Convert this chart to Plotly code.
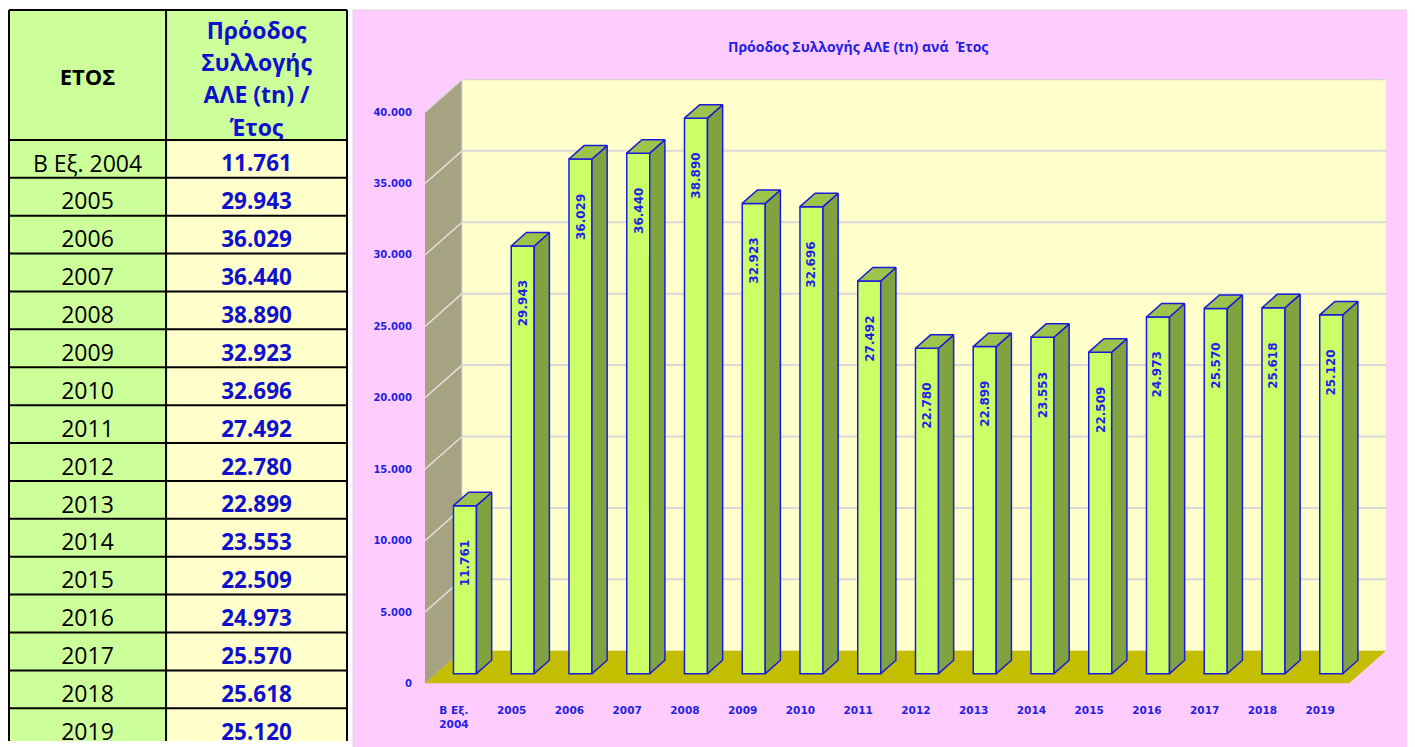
import plotly.graph_objects as go

# ---------------- data ----------------
years = ["B Εξ. 2004", "2005", "2006", "2007", "2008", "2009", "2010", "2011",
         "2012", "2013", "2014", "2015", "2016", "2017", "2018", "2019"]
x_tick_labels = ["B Εξ.<br>2004", "2005", "2006", "2007", "2008", "2009", "2010", "2011",
                 "2012", "2013", "2014", "2015", "2016", "2017", "2018", "2019"]
values = [11761, 29943, 36029, 36440, 38890, 32923, 32696, 27492,
          22780, 22899, 23553, 22509, 24973, 25570, 25618, 25120]
y_ticks = [0, 5000, 10000, 15000, 20000, 25000, 30000, 35000, 40000]
header_col1 = "ΕΤΟΣ"
header_col2 = ["Πρόοδος", "Συλλογής", "ΑΛΕ (tn) /", "Έτος"]
chart_title = "Πρόοδος Συλλογής ΑΛΕ (tn) ανά  Έτος"


def fmt(v):
    return f"{v:,}".replace(",", ".")


# ---------------- page geometry ----------------
OFF = 8                       # default body margin of the html page
PAGE_W, PAGE_H = 1415, 747
FW, FH = PAGE_W - OFF, PAGE_H - OFF


def px(p):                    # page x -> paper fraction
    return (p - OFF) / FW


def py(p):                    # page y -> paper fraction
    return 1 - (p - OFF) / FH


# chart geometry (page pixels)
PLOT_L, PLOT_R = 425, 1386
PLOT_T, PLOT_B = 78, 689
N = len(values)
PXU = (1349 - 425) / N        # px per category
PYU = 576 / 40000             # px per value unit
DX = 37 / PXU
DY = 33 / PYU
XMIN = -0.5
XMAX = N - 0.5 + DX
YMAX = (PLOT_B - PLOT_T) / PYU
BAR_W = 23 / PXU
D0, D1 = 0.30, 0.71

BLUE = "#1a1adb"
TXT_BLUE = "#1f1fe6"
TBL_BLUE = "#1010cc"

# table geometry (page pixels)
T_L, T_MID, T_R = 7, 165, 347
T_TOP, H_BOT = 10, 141
ROW_H = 38.2

fig = go.Figure()
shapes = []

# ---------------- table (subplot x2/y2 in page px) ----------------
shapes.append(dict(type="rect", xref="x2", yref="y2", layer="below",
                   x0=T_L, x1=T_R, y0=T_TOP, y1=H_BOT,
                   fillcolor="#CCFF99", line=dict(width=0)))
row_tops = [H_BOT + ROW_H * k for k in range(N)]
for rt in row_tops:
    shapes.append(dict(type="rect", xref="x2", yref="y2", layer="below",
                       x0=T_L, x1=T_MID, y0=rt, y1=rt + ROW_H,
                       fillcolor="#CCFF99", line=dict(width=0)))
    shapes.append(dict(type="rect", xref="x2", yref="y2", layer="below",
                       x0=T_MID, x1=T_R, y0=rt, y1=rt + ROW_H,
                       fillcolor="#FFFFCC", line=dict(width=0)))
for yl in [T_TOP, H_BOT] + [rt + ROW_H for rt in row_tops]:
    shapes.append(dict(type="line", xref="x2", yref="y2",
                       x0=T_L, x1=T_R, y0=yl, y1=yl,
                       line=dict(color="black", width=2)))
for xl in [T_L, T_MID, T_R]:
    shapes.append(dict(type="line", xref="x2", yref="y2",
                       x0=xl, x1=xl, y0=T_TOP, y1=row_tops[-1] + ROW_H,
                       line=dict(color="black", width=2)))

c1 = (T_L + T_MID) / 2
c2 = (T_MID + T_R) / 2
row_centers = [rt + ROW_H / 2 + 7 for rt in row_tops]
TFONT = "Open Sans"

fig.add_trace(go.Scatter(x=[c1], y=[80], mode="text", text=[f"<b>{header_col1}</b>"],
                         textfont=dict(family=TFONT, size=22, color="black"),
                         xaxis="x2", yaxis="y2", hoverinfo="skip", cliponaxis=False))
fig.add_trace(go.Scatter(x=[c2] * 4, y=[33, 66, 98, 131], mode="text",
                         text=[f"<b>{t}</b>" for t in header_col2],
                         textfont=dict(family=TFONT, size=23, color=TBL_BLUE),
                         xaxis="x2", yaxis="y2", hoverinfo="skip", cliponaxis=False))
fig.add_trace(go.Scatter(x=[c1] * N, y=row_centers, mode="text", text=years,
                         textfont=dict(family=TFONT, size=23, color="black"),
                         xaxis="x2", yaxis="y2", hoverinfo="skip"))
fig.add_trace(go.Scatter(x=[c2] * N, y=row_centers, mode="text",
                         text=[f"<b>{fmt(v)}</b>" for v in values],
                         textfont=dict(family=TFONT, size=22.5, color=TBL_BLUE),
                         xaxis="x2", yaxis="y2", hoverinfo="skip"))

# ---------------- chart background & walls ----------------
shapes.insert(0, dict(type="rect", xref="paper", yref="paper", layer="below",
                      x0=px(353), x1=1.01, y0=-0.01, y1=py(10),
                      fillcolor="#FFCCFF", line=dict(color="#d9d9d9", width=1)))
shapes.append(dict(type="rect", xref="x", yref="y", layer="below",
                   x0=XMIN + DX, x1=XMAX, y0=DY, y1=y_ticks[-1] + DY,
                   fillcolor="#FFFFCC", line=dict(width=0)))
shapes.append(dict(type="path", xref="x", yref="y", layer="below",
                   path=f"M {XMIN},0 L {XMIN},{y_ticks[-1]} L {XMIN + DX},{y_ticks[-1] + DY} "
                        f"L {XMIN + DX},{DY} Z",
                   fillcolor="#A6A382", line=dict(width=0)))
for t in y_ticks[1:-1]:
    shapes.append(dict(type="line", xref="x", yref="y", layer="below",
                       x0=XMIN + DX, x1=XMAX, y0=t + DY, y1=t + DY,
                       line=dict(color="#d9d9d9", width=2)))
    shapes.append(dict(type="line", xref="x", yref="y", layer="below",
                       x0=XMIN, x1=XMIN + DX, y0=t, y1=t + DY,
                       line=dict(color="#e0e0e0", width=1.5)))
shapes.append(dict(type="line", xref="x", yref="y", layer="below",
                   x0=XMIN + DX, x1=XMAX, y0=y_ticks[-1] + DY, y1=y_ticks[-1] + DY,
                   line=dict(color="#d9d9d9", width=1.5)))
shapes.append(dict(type="line", xref="x", yref="y", layer="below",
                   x0=XMIN, x1=XMIN + DX, y0=y_ticks[-1], y1=y_ticks[-1] + DY,
                   line=dict(color="#d9d9d9", width=1.5)))
shapes.append(dict(type="line", xref="x", yref="y", layer="below",
                   x0=XMIN + DX, x1=XMIN + DX, y0=DY, y1=y_ticks[-1] + DY,
                   line=dict(color="#d9d9d9", width=1)))
shapes.append(dict(type="path", xref="x", yref="y", layer="below",
                   path=f"M {XMIN},0 L {XMIN + DX},{DY} L {N - 0.5 + DX},{DY} L {N - 0.5},0 Z",
                   fillcolor="#C4BE00", line=dict(width=0)))

# ---------------- bars ----------------
xs = list(range(N))
front_x = [i + D0 * DX for i in xs]

fig.add_trace(go.Bar(
    x=front_x, y=values, base=D0 * DY, width=BAR_W,
    marker=dict(color="#CCFF66", line=dict(color=BLUE, width=1.5)),
    hoverinfo="skip", showlegend=False,
))

side_x, side_y, top_x, top_y = [], [], [], []
for i, v in zip(xs, values):
    xl = i - BAR_W / 2
    xr = i + BAR_W / 2
    side_x += [xr + D0 * DX, xr + D1 * DX, xr + D1 * DX, xr + D0 * DX, xr + D0 * DX, None]
    side_y += [D0 * DY, D1 * DY, v + D1 * DY, v + D0 * DY, D0 * DY, None]
    top_x += [xl + D0 * DX, xl + D1 * DX, xr + D1 * DX, xr + D0 * DX, xl + D0 * DX, None]
    top_y += [v + D0 * DY, v + D1 * DY, v + D1 * DY, v + D0 * DY, v + D0 * DY, None]

fig.add_trace(go.Scatter(x=side_x, y=side_y, mode="lines", fill="toself",
                         fillcolor="#80A340", line=dict(color=BLUE, width=1.5),
                         hoverinfo="skip", showlegend=False))
fig.add_trace(go.Scatter(x=top_x, y=top_y, mode="lines", fill="toself",
                         fillcolor="#9CC34A", line=dict(color=BLUE, width=1.5),
                         hoverinfo="skip", showlegend=False))

annotations = []
LABEL_OFF = 58 / PYU
for fxv, v in zip(front_x, values):
    annotations.append(dict(x=fxv, y=v + D0 * DY - LABEL_OFF, xref="x", yref="y",
                            text=f"<b>{fmt(v)}</b>", textangle=-90, showarrow=False,
                            xanchor="center", yanchor="middle",
                            font=dict(family="DejaVu Sans", size=12, color=TXT_BLUE)))

annotations.append(dict(x=px(858), y=py(47), xref="paper", yref="paper",
                        xanchor="center", yanchor="middle",
                        text=f"<b>{chart_title}</b>", showarrow=False,
                        font=dict(family="Open Sans", size=14, color=TXT_BLUE)))

fig.update_layout(
    width=FW, height=FH,
    margin=dict(l=0, r=0, t=0, b=0),
    paper_bgcolor="white", plot_bgcolor="rgba(0,0,0,0)",
    separators=",.",
    showlegend=False,
    shapes=shapes, annotations=annotations,
    xaxis=dict(domain=[px(PLOT_L), px(PLOT_R)], range=[XMIN, XMAX],
               tickvals=xs, ticktext=x_tick_labels,
               tickfont=dict(family="DejaVu Sans", size=10.5, color=TXT_BLUE, weight="bold"),
               ticks="outside", ticklen=17, tickcolor="rgba(0,0,0,0)",
               showgrid=False, zeroline=False, showline=False, fixedrange=True),
    yaxis=dict(domain=[py(PLOT_B), py(PLOT_T)], range=[0, YMAX],
               tickvals=y_ticks, tickformat=",d",
               tickfont=dict(family="DejaVu Sans", size=10, color=TXT_BLUE, weight="bold"),
               ticks="outside", ticklen=10, tickcolor="rgba(0,0,0,0)",
               showgrid=False, zeroline=False, showline=False, fixedrange=True),
    xaxis2=dict(domain=[max(0, px(T_L - 1)), px(T_R + 1)], range=[T_L - 1, T_R + 1],
                visible=False, fixedrange=True),
    yaxis2=dict(domain=[0, py(T_TOP - 1)], range=[PAGE_H, T_TOP - 1],
                visible=False, fixedrange=True),
)

fig.write_html("out.html")
